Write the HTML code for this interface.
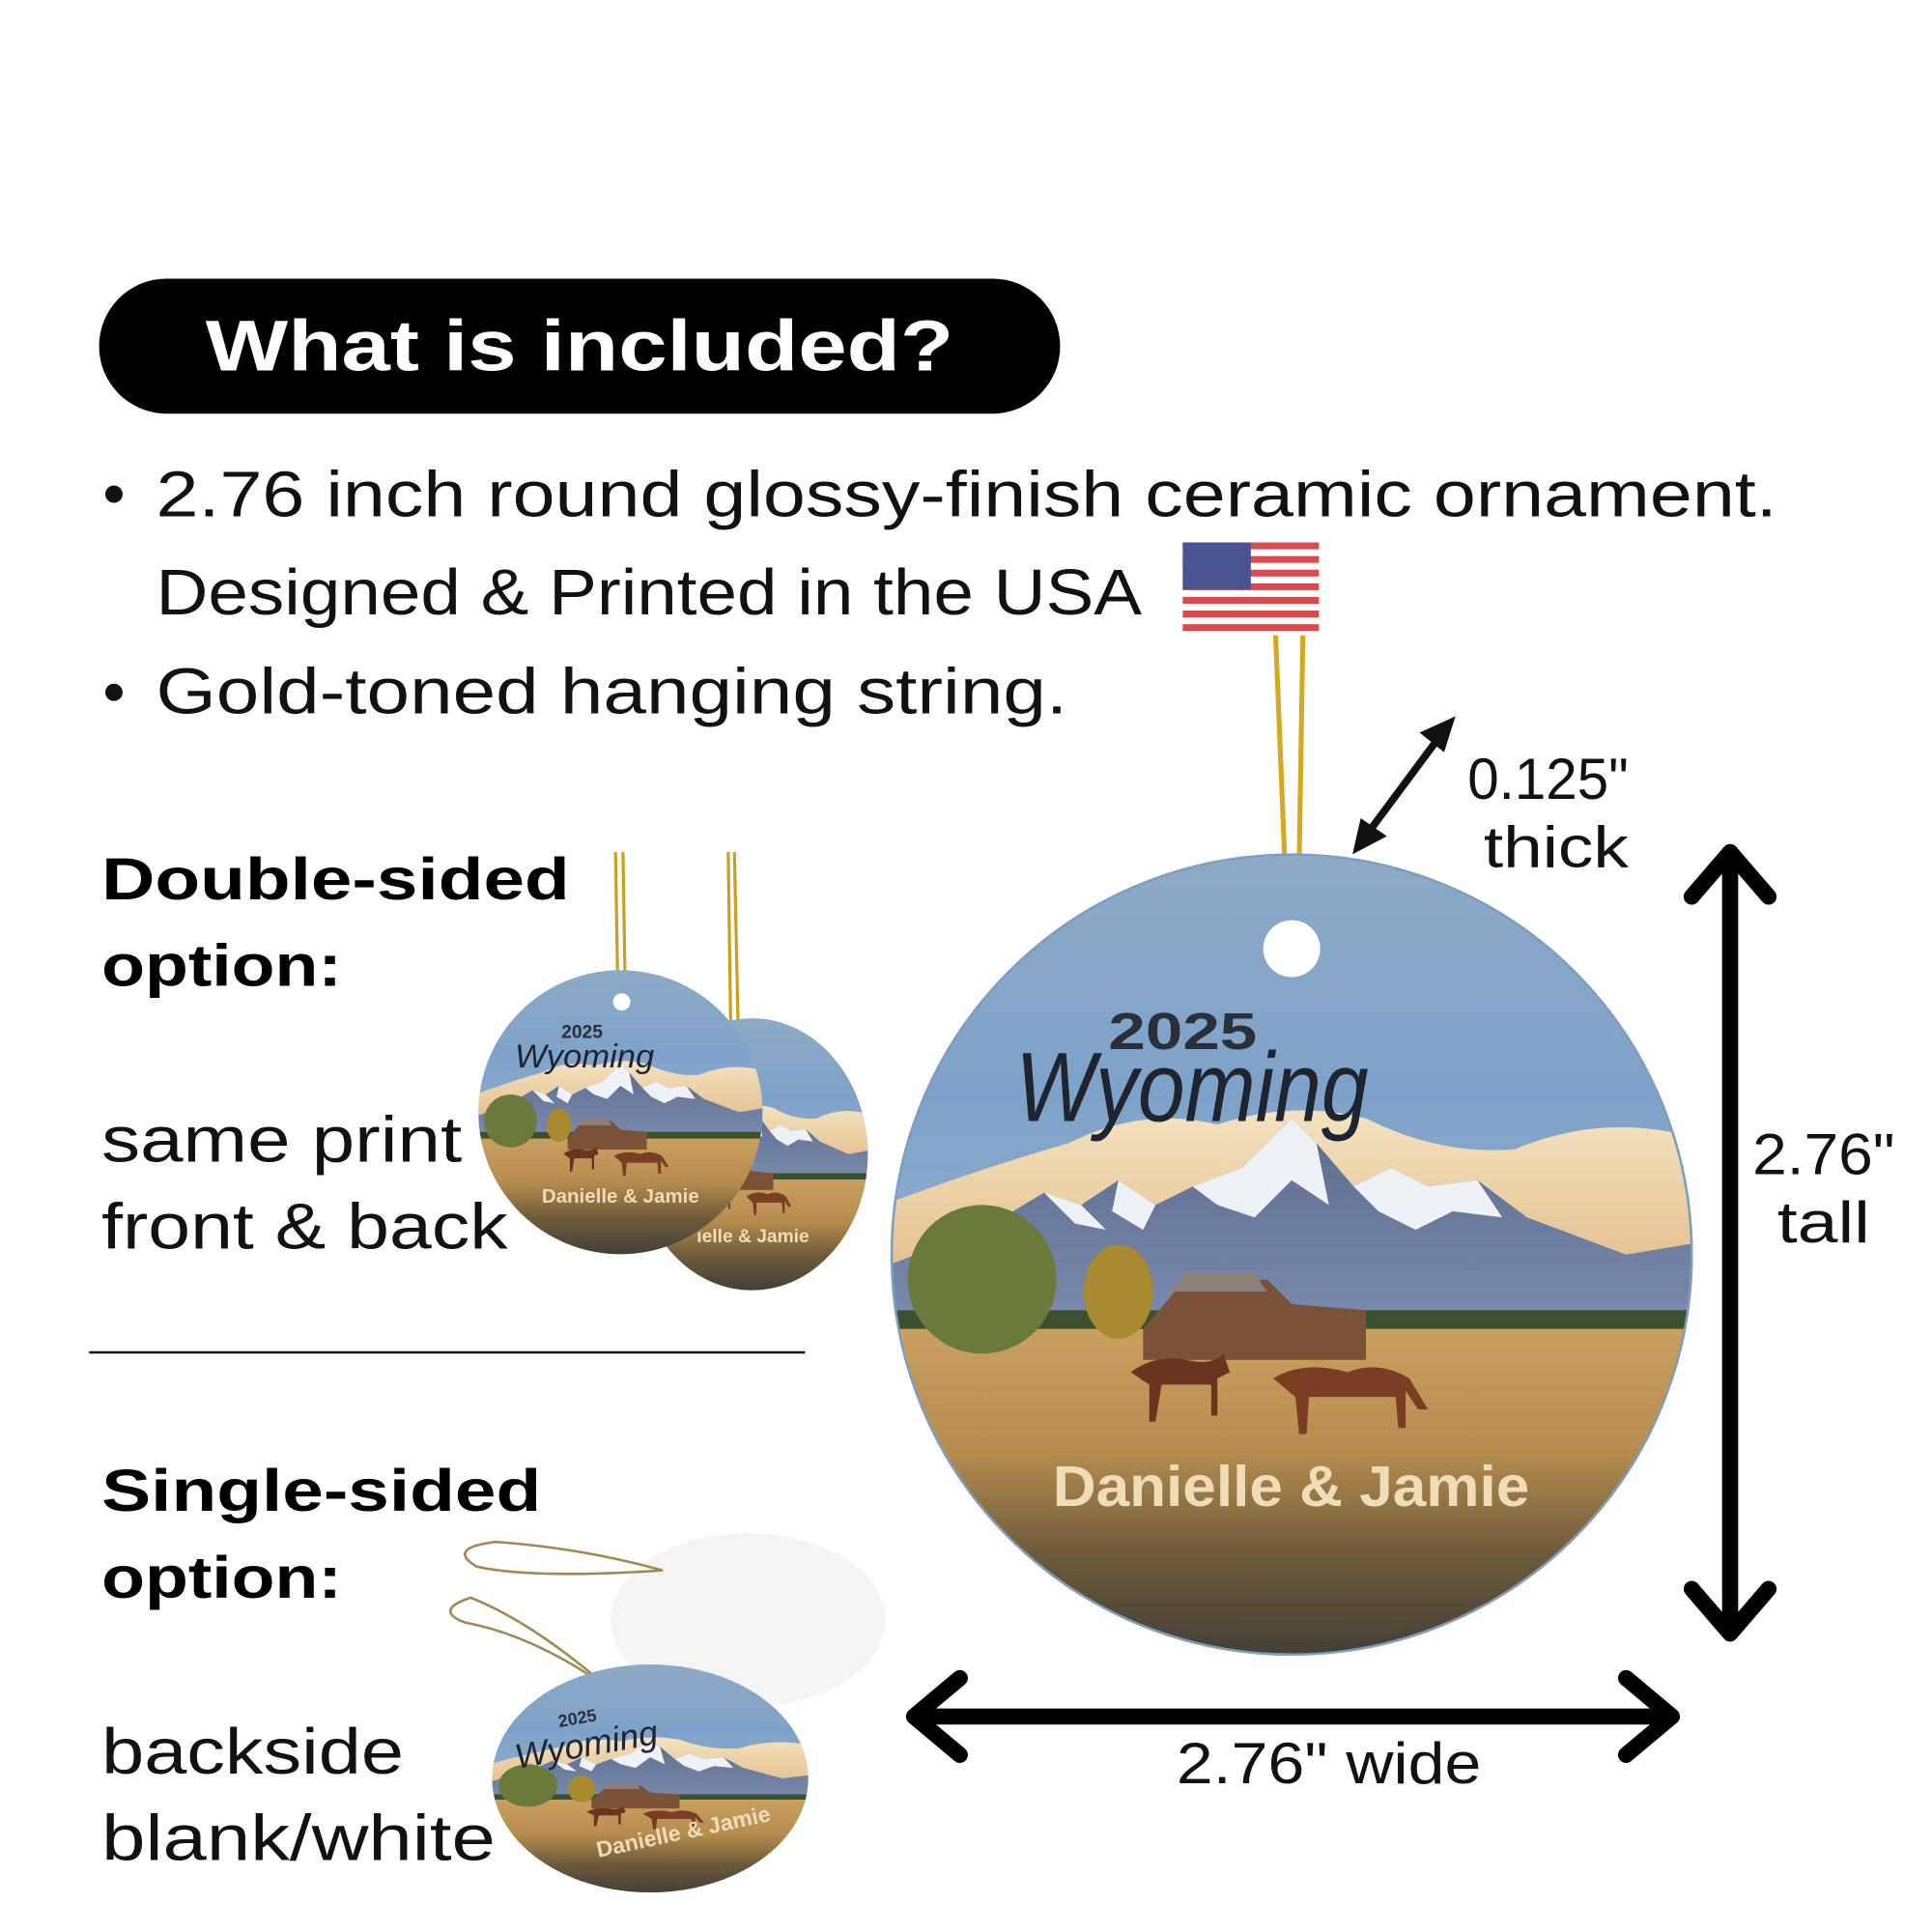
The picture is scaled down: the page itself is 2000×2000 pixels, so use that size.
<!DOCTYPE html>
<html><head><meta charset="utf-8"><style>
html,body{margin:0;padding:0;background:#fff;width:2000px;height:2000px;overflow:hidden}
svg{display:block}
text{font-family:"Liberation Sans",sans-serif}
</style></head><body>
<svg width="2000" height="2000" viewBox="0 0 1560 1560" xmlns="http://www.w3.org/2000/svg">
<defs>
<linearGradient id="sky" x1="0" y1="0" x2="0" y2="1">
<stop offset="0" stop-color="#8eaac6"/><stop offset="0.3" stop-color="#7ea2c9"/><stop offset="0.45" stop-color="#88a9cc"/><stop offset="1" stop-color="#8aa6c4"/></linearGradient>
<linearGradient id="field" x1="0" y1="0" x2="0" y2="1">
<stop offset="0" stop-color="#c9a060"/><stop offset="0.35" stop-color="#b68d4e"/><stop offset="0.65" stop-color="#6e5a3a"/><stop offset="1" stop-color="#3b3a36"/></linearGradient>
<linearGradient id="cloud" x1="0" y1="0" x2="0" y2="1">
<stop offset="0" stop-color="#f3e2c0"/><stop offset="1" stop-color="#e2b985"/></linearGradient>
<linearGradient id="mtn" x1="0" y1="0" x2="0" y2="1">
<stop offset="0" stop-color="#5b6c8f"/><stop offset="1" stop-color="#7d8db0"/></linearGradient>
<clipPath id="cc"><circle cx="0" cy="0" r="323"/></clipPath>
<symbol id="scene" viewBox="-323 -323 646 646" overflow="visible">
<g clip-path="url(#cc)">
<rect x="-330" y="-330" width="660" height="660" fill="url(#sky)"/>
<path d="M-330 -40 Q-250 -70 -180 -90 Q-120 -120 -60 -105 Q0 -125 60 -110 Q120 -80 180 -85 Q240 -110 300 -100 L330 -95 L330 40 L-330 40Z" fill="url(#cloud)"/>
<path d="M-330 10 L-250 -20 L-200 -50 L-170 -40 L-140 -60 L-110 -40 L-80 -55 L-40 -70 L0 -110 L20 -90 L50 -55 L80 -70 L110 -55 L150 -60 L190 -30 L230 -15 L270 0 L330 -10 L330 70 L-330 70Z" fill="url(#mtn)"/>
<path d="M-200 -50 L-170 -40 L-150 -20 L-175 -25Z M-140 -60 L-110 -40 L-120 -20 L-145 -35Z M-80 -55 L-40 -70 L0 -110 L20 -90 L30 -40 L0 -60 L-30 -30 L-60 -40Z M50 -55 L80 -70 L110 -55 L150 -60 L170 -30 L130 -35 L100 -20 L70 -35Z" fill="#eef1f6"/>
<rect x="-330" y="45" width="660" height="20" fill="#3c5030"/>
<rect x="-330" y="60" width="660" height="280" fill="url(#field)"/>
<ellipse cx="-250" cy="20" rx="60" ry="60" fill="#6a7a3a"/>
<ellipse cx="-140" cy="30" rx="28" ry="38" fill="#a88a30"/>
<path d="M-120 60 L-90 25 L-20 20 L0 40 L60 45 L60 85 L-120 85Z" fill="#7a5238"/>
<path d="M-100 30 L-85 15 L-30 15 L-20 30Z" fill="#8c8078"/>
<path d="M-130 95 q20 -15 45 -10 q20 5 30 -5 l5 15 l-10 5 l0 30 l-5 0 l0 -25 l-40 0 l-5 30 l-5 0 l0 -30Z" fill="#6b3420"/>
<path d="M-15 100 q25 -15 60 -5 q25 -10 50 5 l15 25 l-8 0 l-10 -15 l0 30 l-6 0 l-2 -25 l-70 0 l-2 30 l-6 0 l-3 -30Z" fill="#7a3e24"/>
</g>
</symbol>
</defs>

<rect x="80" y="225" width="776" height="109" rx="54.5" fill="#000"/>
<text x="166" y="299" font-size="58" font-weight="bold" fill="#fff" textLength="604" lengthAdjust="spacingAndGlyphs">What is included?</text>

<circle cx="92" cy="399" r="7" fill="#111"/>
<text x="126" y="417" font-size="52" fill="#111" textLength="1309" lengthAdjust="spacingAndGlyphs">2.76 inch round glossy-finish ceramic ornament.</text>
<text x="126" y="496" font-size="52" fill="#111" textLength="796" lengthAdjust="spacingAndGlyphs">Designed &amp; Printed in the USA</text>
<circle cx="92" cy="559" r="7" fill="#111"/>
<text x="126" y="576" font-size="52" fill="#111" textLength="736" lengthAdjust="spacingAndGlyphs">Gold-toned hanging string.</text>

<g>
<rect x="955" y="438" width="110" height="72" fill="#fff"/>
<g fill="#d64b4f">
<rect x="955" y="438" width="110" height="5.5"/><rect x="955" y="449" width="110" height="5.5"/><rect x="955" y="460" width="110" height="5.5"/><rect x="955" y="471" width="110" height="5.5"/><rect x="955" y="482" width="110" height="5.5"/><rect x="955" y="493" width="110" height="5.5"/><rect x="955" y="504" width="110" height="5.5"/>
</g>
<rect x="955" y="438" width="55" height="38" fill="#4a5490"/>
</g>

<text x="82" y="726" font-size="48" font-weight="bold" fill="#000" textLength="378" lengthAdjust="spacingAndGlyphs">Double-sided</text>
<text x="82" y="796" font-size="48" font-weight="bold" fill="#000" textLength="194" lengthAdjust="spacingAndGlyphs">option:</text>
<text x="82" y="938" font-size="52" fill="#111" textLength="291" lengthAdjust="spacingAndGlyphs">same print</text>
<text x="82" y="1008" font-size="52" fill="#111" textLength="328" lengthAdjust="spacingAndGlyphs">front &amp; back</text>
<line x1="72" y1="1092" x2="650" y2="1092" stroke="#111" stroke-width="2"/>
<text x="82" y="1220" font-size="48" font-weight="bold" fill="#000" textLength="355" lengthAdjust="spacingAndGlyphs">Single-sided</text>
<text x="82" y="1290" font-size="48" font-weight="bold" fill="#000" textLength="194" lengthAdjust="spacingAndGlyphs">option:</text>
<text x="82" y="1432" font-size="52" fill="#111" textLength="244" lengthAdjust="spacingAndGlyphs">backside</text>
<text x="82" y="1502" font-size="52" fill="#111" textLength="318" lengthAdjust="spacingAndGlyphs">blank/white</text>

<path d="M588 688 L590 830 M593 688 L596 830" stroke="#c9a020" stroke-width="2.5" fill="none"/>
<g transform="translate(607 932) scale(0.29 0.34)"><use href="#scene" x="-323" y="-323" width="646" height="646"/></g>
<text x="608" y="1003" font-size="15" font-weight="bold" fill="#efdcb8" text-anchor="middle">ielle &amp; Jamie</text>
<path d="M497 688 L499 808 M503 688 L505 808" stroke="#c9a020" stroke-width="2.5" fill="none"/>
<g transform="translate(501 898) scale(0.355 0.355)"><use href="#scene" x="-323" y="-323" width="646" height="646"/></g>
<circle cx="502" cy="809" r="7" fill="#fff"/>
<text x="470" y="838" font-size="15" font-weight="bold" fill="#2a2f3a" text-anchor="middle">2025</text>
<text x="472" y="862" font-size="27" font-style="italic" fill="#1e2430" font-family="Liberation Serif,serif" text-anchor="middle">Wyoming</text>
<text x="501" y="971" font-size="16" font-weight="bold" fill="#efdcb8" text-anchor="middle">Danielle &amp; Jamie</text>

<ellipse cx="604" cy="1308" rx="111" ry="70" fill="#f4f4f4"/>
<path d="M535 1268 Q470 1250 400 1245 Q360 1250 385 1265 Q430 1275 535 1268" stroke="#a08850" stroke-width="2" fill="none"/>
<path d="M490 1362 Q430 1310 380 1290 Q350 1300 375 1310 Q430 1320 490 1362" stroke="#a08850" stroke-width="2" fill="none"/>
<g transform="translate(525 1436) scale(0.395 0.285)"><use href="#scene" x="-323" y="-323" width="646" height="646"/></g>
<text x="467" y="1392" font-size="14" font-weight="bold" fill="#2a2f3a" text-anchor="middle" transform="rotate(-10 467 1392)">2025</text>
<text x="475" y="1418" font-size="28" font-style="italic" fill="#1e2430" font-family="Liberation Serif,serif" text-anchor="middle" transform="rotate(-10 475 1418)">Wyoming</text>
<text x="553" y="1485" font-size="18" font-weight="bold" fill="#efdcb8" text-anchor="middle" transform="rotate(-12 553 1485)">Danielle &amp; Jamie</text>

<path d="M1030 513 L1040 760 M1052 513 L1048 760" stroke="#d4a820" stroke-width="4" fill="none"/>
<g transform="translate(1043 1013)"><use href="#scene" x="-323" y="-323" width="646" height="646"/></g>
<circle cx="1043" cy="1013" r="323" fill="none" stroke="#7f9dbd" stroke-width="2"/>
<circle cx="1043" cy="766" r="23" fill="#fff"/>
<text x="895" y="847" font-size="42" font-weight="bold" fill="#2a2f3a" textLength="120" lengthAdjust="spacingAndGlyphs">2025</text>
<text x="820" y="905" font-size="80" font-style="italic" fill="#1e2430" font-family="Liberation Serif,serif" textLength="285" lengthAdjust="spacingAndGlyphs">Wyoming</text>
<text x="850" y="1216" font-size="46" font-weight="bold" fill="#efdcb8" textLength="385" lengthAdjust="spacingAndGlyphs">Danielle &amp; Jamie</text>

<line x1="1160" y1="598" x2="1105" y2="672" stroke="#111" stroke-width="6"/>
<path d="M1172 582 L1150 592 L1165 604Z M1095 686 L1100 664 L1116 675Z" fill="#111" stroke="#111" stroke-width="4"/>
<text x="1185" y="645" font-size="47" fill="#111" textLength="130" lengthAdjust="spacingAndGlyphs">0.125"</text>
<text x="1198" y="700" font-size="47" fill="#111" textLength="117" lengthAdjust="spacingAndGlyphs">thick</text>

<line x1="1397" y1="690" x2="1397" y2="1316" stroke="#000" stroke-width="13"/>
<path d="M1366 724 L1397 688 L1428 724 M1366 1283 L1397 1319 L1428 1283" stroke="#000" stroke-width="13" fill="none" stroke-linejoin="round" stroke-linecap="round"/>
<text x="1415" y="948" font-size="47" fill="#111" textLength="115" lengthAdjust="spacingAndGlyphs">2.76"</text>
<text x="1435" y="1003" font-size="47" fill="#111" textLength="75" lengthAdjust="spacingAndGlyphs">tall</text>

<line x1="742" y1="1386" x2="1346" y2="1386" stroke="#000" stroke-width="13"/>
<path d="M775 1355 L738 1386 L775 1417 M1313 1355 L1350 1386 L1313 1417" stroke="#000" stroke-width="13" fill="none" stroke-linejoin="round" stroke-linecap="round"/>
<text x="950" y="1440" font-size="47" fill="#111" textLength="246" lengthAdjust="spacingAndGlyphs">2.76" wide</text>
</svg>
</body></html>
